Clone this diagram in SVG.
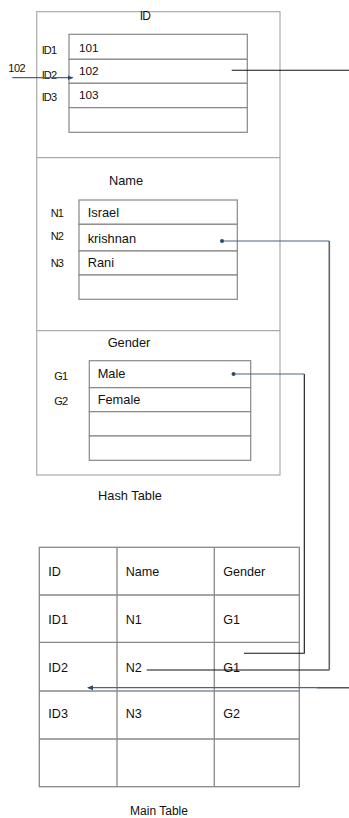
<svg xmlns="http://www.w3.org/2000/svg" width="349" height="818" viewBox="0 0 349 818">
  <style>
    text { font-family: "Liberation Sans", Arial, sans-serif; fill: #111; }
    .outer { fill: #fff; stroke: #aaa; stroke-width: 1.2; }
    .cell { fill: #fff; stroke: #888; stroke-width: 1.2; }
    .grid { fill: none; stroke: #888; stroke-width: 1.3; }
    .num { font-size: 11.8px; }
    .val { font-size: 12.8px; }
    .key { font-size: 11px; letter-spacing: -0.9px; }
    .title { font-size: 12.8px; text-anchor: middle; }
    .tbl { font-size: 12.6px; }
    .link { fill: none; stroke: #111; stroke-width: 1.1; }
    .rail { fill: none; stroke: #666; stroke-width: 1.6; }
    .blue { fill: none; stroke: #4a6482; stroke-width: 1.2; }
  </style>
  <defs>
    <marker id="tip" viewBox="0 0 6 6" refX="5" refY="3" markerWidth="5" markerHeight="5" orient="auto">
      <path d="M0,0.5 L6,3 L0,5.5 Z" fill="#2f4a68"/>
    </marker>
    <marker id="dot" viewBox="0 0 6 6" refX="3" refY="3" markerWidth="4" markerHeight="4">
      <circle cx="3" cy="3" r="2.5" fill="#2f4a68"/>
    </marker>
  </defs>

  <!-- hash table container -->
  <g id="hash-table">
    <rect class="outer" x="36.7" y="11.7" width="243.3" height="463.3"/>
    <line x1="36.7" y1="157.7" x2="280" y2="157.7" stroke="#aaa" stroke-width="1.2"/>
    <line x1="36.7" y1="330.7" x2="280" y2="330.7" stroke="#aaa" stroke-width="1.2"/>
    <text class="title" x="130" y="499.5">Hash Table</text>
  </g>

  <!-- ID bucket -->
  <g id="id-bucket">
    <text class="title" x="145" y="20" style="font-size:12px;letter-spacing:-0.8px">ID</text>
    <rect class="cell" x="69" y="34.3" width="178.3" height="25"/>
    <rect class="cell" x="69" y="59.3" width="178.3" height="24"/>
    <rect class="cell" x="69" y="83.3" width="178.3" height="24.4"/>
    <rect class="cell" x="69" y="107.7" width="178.3" height="24.6"/>
    <text class="key" x="41.7" y="54">ID1</text>
    <text class="key" x="41.7" y="79">ID2</text>
    <text class="key" x="41.7" y="101">ID3</text>
    <text class="num" x="79" y="51.5">101</text>
    <text class="num" x="79" y="75">102</text>
    <text class="num" x="79" y="99">103</text>
  </g>

  <!-- Name bucket -->
  <g id="name-bucket">
    <text class="title" x="126" y="185">Name</text>
    <rect class="cell" x="79" y="200" width="158.3" height="24.3"/>
    <rect class="cell" x="79" y="224.3" width="158.3" height="26.7"/>
    <rect class="cell" x="79" y="251" width="158.3" height="24"/>
    <rect class="cell" x="79" y="275" width="158.3" height="24.3"/>
    <text class="key" x="50.7" y="216.7">N1</text>
    <text class="key" x="50.7" y="240">N2</text>
    <text class="key" x="50.7" y="267">N3</text>
    <text class="val" x="87.7" y="216.7">Israel</text>
    <text class="val" x="87.7" y="242.7">krishnan</text>
    <text class="val" x="87.7" y="266.7">Rani</text>
  </g>

  <!-- Gender bucket -->
  <g id="gender-bucket">
    <text class="title" x="129" y="347.3">Gender</text>
    <rect class="cell" x="89.3" y="360.7" width="161.4" height="27"/>
    <rect class="cell" x="89.3" y="387.7" width="161.4" height="24"/>
    <rect class="cell" x="89.3" y="411.7" width="161.4" height="24.3"/>
    <rect class="cell" x="89.3" y="436" width="161.4" height="24.3"/>
    <text class="key" x="54.3" y="380">G1</text>
    <text class="key" x="54.3" y="405">G2</text>
    <text class="val" x="97.7" y="378.3">Male</text>
    <text class="val" x="97.7" y="404.3">Female</text>
  </g>

  <!-- main table -->
  <g id="main-table">
    <rect class="grid" x="39.3" y="547.3" width="260" height="239.4"/>
    <line class="grid" x1="117" y1="547.3" x2="117" y2="786.7"/>
    <line class="grid" x1="214.3" y1="547.3" x2="214.3" y2="786.7"/>
    <line class="grid" x1="39.3" y1="595" x2="299.3" y2="595"/>
    <line class="grid" x1="39.3" y1="642.3" x2="299.3" y2="642.3"/>
    <line class="grid" x1="39.3" y1="691" x2="299.3" y2="691"/>
    <line class="grid" x1="39.3" y1="739" x2="299.3" y2="739"/>
    <text class="tbl" x="48.3" y="575.7">ID</text>
    <text class="tbl" x="125.7" y="575.7">Name</text>
    <text class="tbl" x="223.3" y="575.7">Gender</text>
    <text class="tbl" x="48.3" y="624">ID1</text>
    <text class="tbl" x="125.7" y="624">N1</text>
    <text class="tbl" x="223.3" y="624">G1</text>
    <text class="tbl" x="48.3" y="671.7">ID2</text>
    <text class="tbl" x="125.7" y="671.7">N2</text>
    <text class="tbl" x="223.3" y="671.7">G1</text>
    <text class="tbl" x="48.3" y="718.3">ID3</text>
    <text class="tbl" x="125.7" y="718.3">N3</text>
    <text class="tbl" x="223.3" y="718.3">G2</text>
    <text class="title" x="159" y="815" style="font-size:12px">Main Table</text>
  </g>

  <!-- connectors -->
  <g id="connectors">
    <!-- lookup key into the ID bucket -->
    <text class="key" x="8.3" y="72.3" style="letter-spacing:-0.5px">102</text>
    <line class="blue" x1="12.3" y1="77.7" x2="72.5" y2="77.7" marker-end="url(#tip)"/>
    <line class="link" x1="231.7" y1="70.3" x2="349" y2="70.3"/>
    <!-- N2 to krishnan -->
    <path class="link" d="M146.7,670 H329.3"/>
    <path class="rail" d="M329.3,670 V241"/>
    <line class="blue" x1="329.3" y1="241" x2="222" y2="241" marker-end="url(#dot)"/>
    <!-- G1 to Male -->
    <path class="link" d="M244,653.3 H304.3 V374"/>
    <line class="blue" x1="304.3" y1="374" x2="233.5" y2="374" marker-end="url(#dot)"/>
    <!-- returning row pointer -->
    <line class="blue" x1="316.7" y1="687.7" x2="88" y2="687.7" marker-end="url(#tip)"/>
    <line x1="316.7" y1="687.7" x2="349" y2="687.7" stroke="#555" stroke-width="1.6"/>
  </g>
</svg>
